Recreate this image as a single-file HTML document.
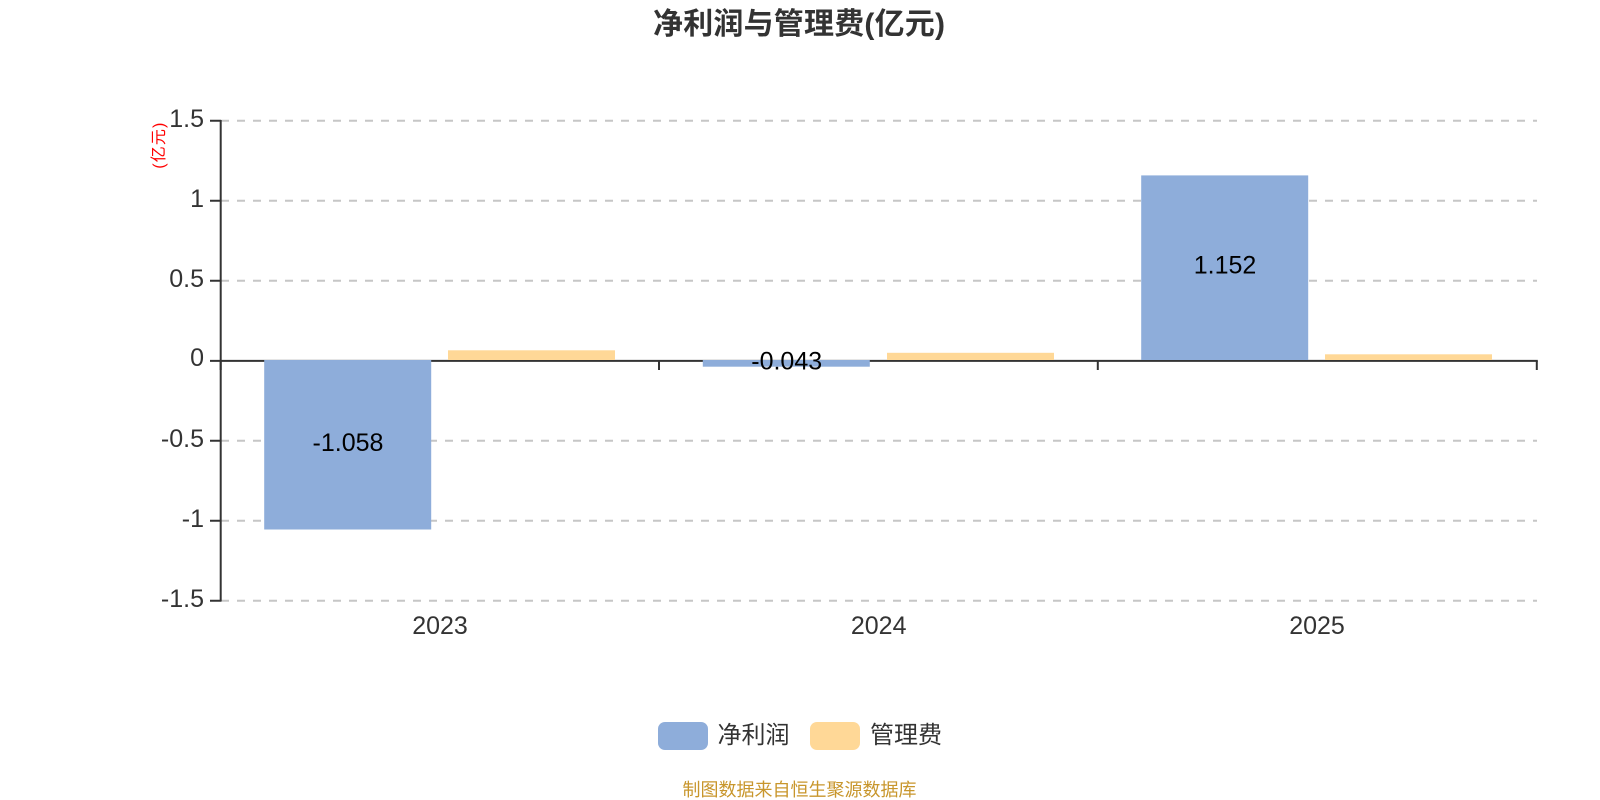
<!DOCTYPE html>
<html>
<head>
<meta charset="utf-8">
<style>
html,body{margin:0;padding:0;background:#fff;width:1600px;height:800px;overflow:hidden}
svg{display:block}
text{font-family:"Liberation Sans","Noto Sans CJK SC",sans-serif;fill:#333}
</style>
</head>
<body>
<svg width="1600" height="800" viewBox="0 0 1600 800" xmlns="http://www.w3.org/2000/svg">
<rect width="1600" height="800" fill="#fff"/>
<text x="799" y="34" font-size="30" font-weight="bold" text-anchor="middle" textLength="292" lengthAdjust="spacing">净利润与管理费(亿元)</text>
<text transform="translate(164,145.7) rotate(-90)" font-size="16" text-anchor="middle" textLength="46" lengthAdjust="spacing" style="fill:#f00">(亿元)</text>

<g stroke="#c6c6c6" stroke-width="2" stroke-dasharray="8 8" fill="none">
<path d="M221 120.8H1537"/>
<path d="M221 200.8H1537"/>
<path d="M221 280.8H1537"/>
<path d="M221 440.8H1537"/>
<path d="M221 520.8H1537"/>
<path d="M221 600.8H1537"/>
</g>

<g stroke="#333" stroke-width="2" fill="none">
<path d="M220.7 120V601.5"/>
<path d="M210 120.7H221M210 200.7H221M210 280.7H221M210 360.9H221M210 440.7H221M210 520.7H221M210 600.7H221"/>
<path d="M220 360.9H1537.8"/>
<path d="M659 361V370M1097.8 361V370M1536.8 361V370M220.7 361V370"/>
</g>

<rect x="264.2" y="360" width="167" height="169.5" fill="#8eadda"/>
<rect x="448" y="350.3" width="167" height="9.7" fill="#ffd897"/>
<rect x="702.8" y="360" width="167" height="6.7" fill="#8eadda"/>
<rect x="887" y="352.8" width="167" height="7.2" fill="#ffd897"/>
<rect x="1141.2" y="175.4" width="167" height="184.6" fill="#8eadda"/>
<rect x="1325" y="354.3" width="167" height="5.7" fill="#ffd897"/>

<g font-size="25" text-anchor="end">
<text x="204" y="127">1.5</text>
<text x="204" y="207">1</text>
<text x="204" y="287">0.5</text>
<text x="204" y="366">0</text>
<text x="204" y="447">-0.5</text>
<text x="204" y="527">-1</text>
<text x="204" y="607">-1.5</text>
</g>
<g font-size="25" text-anchor="middle">
<text x="440" y="634">2023</text>
<text x="878.7" y="634">2024</text>
<text x="1317" y="634">2025</text>
</g>
<g font-size="25" text-anchor="middle">
<text x="348" y="451" style="fill:#000">-1.058</text>
<text x="786.7" y="369.5" style="fill:#000">-0.043</text>
<text x="1225" y="273.5" style="fill:#000">1.152</text>
</g>

<rect x="658" y="722" width="50" height="28" rx="7" fill="#8eadda"/>
<text x="717.5" y="743" font-size="24">净利润</text>
<rect x="810" y="722" width="50" height="28" rx="7" fill="#ffd897"/>
<text x="870" y="743" font-size="24">管理费</text>
<text x="682.5" y="796" font-size="18" style="fill:#c8962c">制图数据来自恒生聚源数据库</text>
</svg>
</body>
</html>
